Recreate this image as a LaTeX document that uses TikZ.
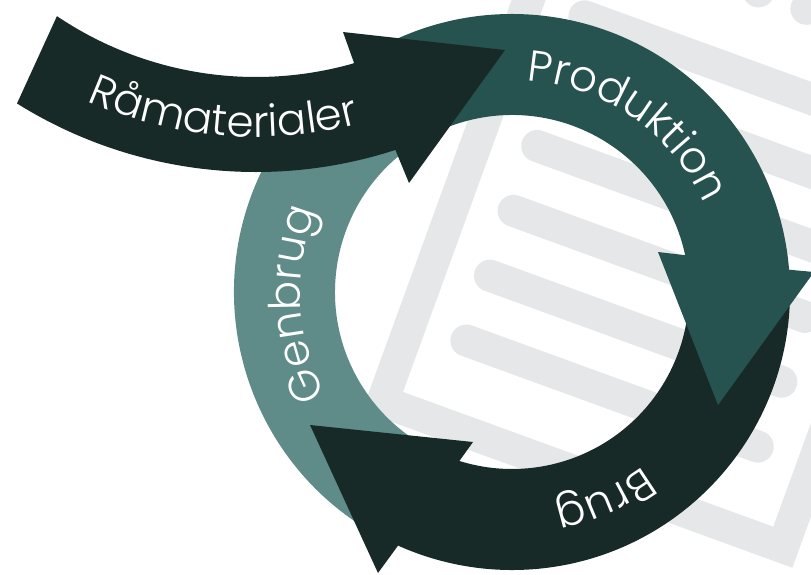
\documentclass[tikz,border=0pt]{standalone}
\usepackage{fontspec}
\IfFontExistsTF{Poppins Light}{\newfontfamily\popfont{Poppins Light}}{\newfontfamily\popfont{Poppins}}
\usetikzlibrary{decorations.text}
\definecolor{prodcol}{HTML}{265350}
\definecolor{darkcol}{HTML}{182A28}
\definecolor{gencol}{HTML}{5F8B89}
\definecolor{doccol}{HTML}{E6E7E8}
\tikzset{
  docframe/.style={draw=doccol, line width=32pt, line join=miter},
  docbar/.style={draw=doccol, line width=32pt, line cap=round},
  docdot/.style={fill=doccol},
  bandtext/.style={decorate, decoration={text along path, text align=left,
      text={|\popfont\fontsize{43.5}{50}\selectfont\color{white}|#1}}},
}
\begin{document}
\begin{tikzpicture}[x=1pt, y=-1pt]
\useasboundingbox (0,0) rectangle (811,574);
\clip (0,0) rectangle (811,574);
\fill[white] (0,0) rectangle (811,574);

% background document
\begin{scope}[shift={(382.5,401.5)}, rotate=-20]
  \draw[docframe] (0,0) rectangle (426,-760);
  \foreach \j in {0,...,5} {
    \draw[docbar] (58,-86-69*\j) -- (368,-86-69*\j);
  }
  \fill[docdot] (213,-514) circle[radius=16];
  \fill[docdot] (264,-514) circle[radius=16];
\end{scope}

% cycle ring
\begin{scope}[shift={(512,292)}]
  % Genbrug
  \fill[gencol] (116:278) arc[start angle=116, end angle=238, radius=278]
     -- (238:177) arc[start angle=238, end angle=116, radius=177] -- cycle;
  % Brug
  \fill[darkcol] (-2:278) arc[start angle=-2, end angle=114.2, radius=278]
     -- (-134,281) -- (-202,133) -- (-39,150)
     -- (107.3:177) arc[start angle=107.3, end angle=-2, radius=177] -- cycle;
  % Produktion
  \fill[prodcol] (-128:278) arc[start angle=-128, end angle=-4.6, radius=278]
     -- (302,-20) -- (206,113) -- (146,-40)
     -- (-12:177) arc[start angle=-12, end angle=-128, radius=177] -- cycle;
\end{scope}

% Raamaterialer arrow
\begin{scope}[shift={(256,-279)}]
  \fill[darkcol] (124:356) arc[start angle=124, end angle=74, radius=356]
     -- (87,311) -- (249,329) -- (153,462)
     -- (72:451) arc[start angle=72, end angle=122, radius=451] -- cycle;
  \path[bandtext={Råmaterialer}] (114:416) arc[start angle=114, end angle=60, radius=416];
\end{scope}

% ring texts
\begin{scope}[shift={(512,292)}]
  \path[bandtext={Produktion}] (-86:212) arc[start angle=-86, end angle=0, radius=212];
  \path[bandtext={Genbrug}] (151:212) arc[start angle=151, end angle=235, radius=212];
  \path[bandtext={Brug}] (53:218) arc[start angle=53, end angle=110, radius=218];
\end{scope}
\end{tikzpicture}
\end{document}
